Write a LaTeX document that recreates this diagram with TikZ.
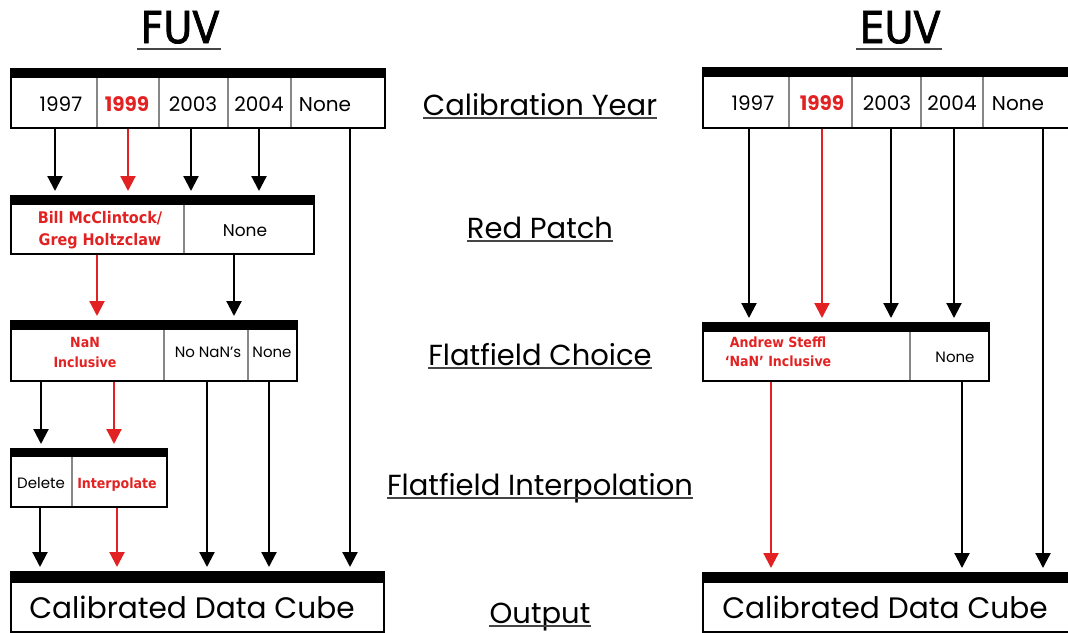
\documentclass[tikz,border=0pt]{standalone}
\usepackage{fontspec}
\setmainfont{Poppins}
\newfontfamily\condfont{DejaVu Sans Condensed}
\newfontfamily\headfont{DejaVu Sans Condensed}[FakeBold=1.6]
\usetikzlibrary{arrows.meta}
\definecolor{calred}{RGB}{226,34,34}
\definecolor{divgray}{RGB}{135,135,135}
\definecolor{linegray}{RGB}{70,70,70}

\begin{document}
\begin{tikzpicture}[x=1pt,y=-1pt,
  stagebox/.style={draw=black,line width=2.2pt,anchor=north west,inner sep=0pt},
  divider/.style={draw=divgray,line width=1.2pt},
  celltext/.style={anchor=base,inner sep=0pt,font=\fontsize{15}{18}\selectfont},
  yeartext/.style={celltext,font=\fontsize{20}{24}\selectfont},
  redtext/.style={anchor=center,align=center,inner sep=0pt,text=calred,font=\condfont\bfseries\fontsize{14}{22}\selectfont},
  rowlabel/.style={anchor=base,inner sep=0pt,font=\fontsize{29}{34}\selectfont},
  headtext/.style={anchor=base,inner sep=0pt,font=\headfont\fontsize{44}{50}\selectfont},
  uline/.style={draw=linegray,line width=1.8pt},
  arr/.style={-{Triangle[length=15pt,width=15pt]},line width=2.2pt,shorten >=4pt},
  redarr/.style={arr,draw=calred}]
\useasboundingbox (0,0) rectangle (1068,632);

% headings
\node[headtext] (fuvhead) at (180,43) {FUV};
\node[headtext] (euvhead) at (900,43) {EUV};
\draw[uline] ([xshift=-3pt,yshift=-6pt]fuvhead.base west) -- ([xshift=1pt,yshift=-6pt]fuvhead.base east);
\draw[uline] ([xshift=-3pt,yshift=-6pt]euvhead.base west) -- ([xshift=1pt,yshift=-6pt]euvhead.base east);

% row labels
\node[rowlabel] (lcal) at (540,115) {Calibration Year};
\node[rowlabel] (lpatch) at (540,238) {Red Patch};
\node[rowlabel] (lchoice) at (540,365) {Flatfield Choice};
\node[rowlabel] (linterp) at (540,495) {Flatfield Interpolation};
\node[rowlabel] (lout) at (540,623) {Output};
\draw[uline] ([yshift=-3pt]lcal.base west) -- ([yshift=-3pt]lcal.base east);
\draw[uline] ([yshift=-3pt]lpatch.base west) -- ([yshift=-3pt]lpatch.base east);
\draw[uline] ([yshift=-3pt]lchoice.base west) -- ([yshift=-3pt]lchoice.base east);
\draw[uline] ([yshift=-3pt]linterp.base west) -- ([yshift=-3pt]linterp.base east);
\draw[uline] ([yshift=-3pt]lout.base west) -- ([yshift=-3pt]lout.base east);

% FUV boxes
\node[stagebox,minimum width=374pt,minimum height=59pt] (fuvyear) at (10,68) {};
\node[stagebox,minimum width=303pt,minimum height=58pt] (fuvpatch) at (10,195) {};
\node[stagebox,minimum width=286pt,minimum height=60pt] (fuvflat) at (10,320) {};
\node[stagebox,minimum width=156pt,minimum height=58pt] (fuvinterp) at (10,448) {};
\node[stagebox,minimum width=373pt,minimum height=60pt] (fuvout) at (10,571) {};
% EUV boxes
\node[stagebox,minimum width=380pt,minimum height=60pt] (euvyear) at (702,67) {};
\node[stagebox,minimum width=286pt,minimum height=58pt] (euvflat) at (702,322) {};
\node[stagebox,minimum width=380pt,minimum height=59pt] (euvout) at (702,572) {};

% black bars
\fill (fuvyear.north west) rectangle ([yshift=-10pt]fuvyear.north east);
\fill (fuvpatch.north west) rectangle ([yshift=-10pt]fuvpatch.north east);
\fill (fuvflat.north west) rectangle ([yshift=-10pt]fuvflat.north east);
\fill (fuvinterp.north west) rectangle ([yshift=-9pt]fuvinterp.north east);
\fill (fuvout.north west) rectangle ([yshift=-12pt]fuvout.north east);
\fill (euvyear.north west) rectangle ([yshift=-10pt]euvyear.north east);
\fill (euvflat.north west) rectangle ([yshift=-10pt]euvflat.north east);
\fill (euvout.north west) rectangle ([yshift=-11pt]euvout.north east);

% cell dividers
\draw[divider] (97,78) -- (97,127);
\draw[divider] (159,78) -- (159,127);
\draw[divider] (228,78) -- (228,127);
\draw[divider] (291,78) -- (291,127);
\draw[divider] (184,205) -- (184,253);
\draw[divider] (164,330) -- (164,380);
\draw[divider] (248,330) -- (248,380);
\draw[divider] (72,457) -- (72,506);
\draw[divider] (789,77) -- (789,127);
\draw[divider] (852,77) -- (852,127);
\draw[divider] (921,77) -- (921,127);
\draw[divider] (983,77) -- (983,127);
\draw[divider] (910,332) -- (910,380);

% FUV cell texts
\node[yeartext] (fy97) at (61,111) {1997};
\node[yeartext,text=calred,font=\bfseries\fontsize{20}{24}\selectfont] (fy99) at (127,111) {1999};
\node[yeartext] (fy03) at (193,111) {2003};
\node[yeartext] (fy04) at (259,111) {2004};
\node[yeartext] (fynone) at (325,111) {None};
\node[redtext,font=\condfont\bfseries\fontsize{16}{22}\selectfont] (fpbill) at (100,230) {Bill McClintock/\\Greg Holtzclaw};
\node[celltext,font=\fontsize{17}{20}\selectfont] (fpnone) at (245,236) {None};
\node[redtext,font=\condfont\bfseries\fontsize{14}{20}\selectfont] (fnan) at (85,352) {NaN\\Inclusive};
\node[celltext] (fnonan) at (208,357) {No NaN’s};
\node[celltext] (fnone) at (272,357) {None};
\node[celltext] (fdel) at (41,488) {Delete};
\node[redtext,anchor=base] (finterp) at (117,488) {Interpolate};
\node[celltext,font=\fontsize{29.6}{34}\selectfont] (fout) at (192,618) {Calibrated Data Cube};

% EUV cell texts
\node[yeartext] (ey97) at (753,110) {1997};
\node[yeartext,text=calred,font=\bfseries\fontsize{20}{24}\selectfont] (ey99) at (822,110) {1999};
\node[yeartext] (ey03) at (887,110) {2003};
\node[yeartext] (ey04) at (952,110) {2004};
\node[yeartext] (eynone) at (1018,110) {None};
\node[redtext,font=\condfont\bfseries\fontsize{14}{19}\selectfont] (eflandrew) at (778,352) {Andrew Steffl\\‘NaN’ Inclusive};
\node[celltext] (eflnone) at (955,362) {None};
\node[celltext,font=\fontsize{29.6}{34}\selectfont] (eout) at (885,618) {Calibrated Data Cube};

% FUV arrows
\draw[arr] ([xshift=-6pt]fy97 |- fuvyear.south) -- ([xshift=-6pt]fy97 |- fuvpatch.north);
\draw[redarr] ([xshift=1pt]fy99 |- fuvyear.south) -- ([xshift=1pt]fy99 |- fuvpatch.north);
\draw[arr] ([xshift=-2pt]fy03 |- fuvyear.south) -- ([xshift=-2pt]fy03 |- fuvpatch.north);
\draw[arr] (fy04 |- fuvyear.south) -- (fy04 |- fuvpatch.north);
\draw[arr] ([xshift=25pt]fynone |- fuvyear.south) -- ([xshift=25pt]fynone |- fuvout.north);
\draw[redarr] ([xshift=-3pt]fpbill |- fuvpatch.south) -- ([xshift=-3pt]fpbill |- fuvflat.north);
\draw[arr] ([xshift=-11pt]fpnone |- fuvpatch.south) -- ([xshift=-11pt]fpnone |- fuvflat.north);
\draw[arr] ([xshift=-44pt]fnan |- fuvflat.south) -- ([xshift=-44pt]fnan |- fuvinterp.north);
\draw[redarr] ([xshift=29pt]fnan |- fuvflat.south) -- ([xshift=29pt]fnan |- fuvinterp.north);
\draw[arr] ([xshift=-1pt]fnonan |- fuvflat.south) -- ([xshift=-1pt]fnonan |- fuvout.north);
\draw[arr] ([xshift=-3pt]fnone |- fuvflat.south) -- ([xshift=-3pt]fnone |- fuvout.north);
\draw[arr] ([xshift=-1pt]fdel |- fuvinterp.south) -- ([xshift=-1pt]fdel |- fuvout.north);
\draw[redarr] (finterp |- fuvinterp.south) -- (finterp |- fuvout.north);

% EUV arrows
\draw[arr] ([xshift=-4pt]ey97 |- euvyear.south) -- ([xshift=-4pt]ey97 |- euvflat.north);
\draw[redarr] (ey99 |- euvyear.south) -- (ey99 |- euvflat.north);
\draw[arr] ([xshift=4pt]ey03 |- euvyear.south) -- ([xshift=4pt]ey03 |- euvflat.north);
\draw[arr] ([xshift=2pt]ey04 |- euvyear.south) -- ([xshift=2pt]ey04 |- euvflat.north);
\draw[arr] ([xshift=25pt]eynone |- euvyear.south) -- ([xshift=25pt]eynone |- euvout.north);
\draw[redarr] ([xshift=-7pt]eflandrew |- euvflat.south) -- ([xshift=-7pt]eflandrew |- euvout.north);
\draw[arr] ([xshift=7pt]eflnone |- euvflat.south) -- ([xshift=7pt]eflnone |- euvout.north);
\end{tikzpicture}
\end{document}
